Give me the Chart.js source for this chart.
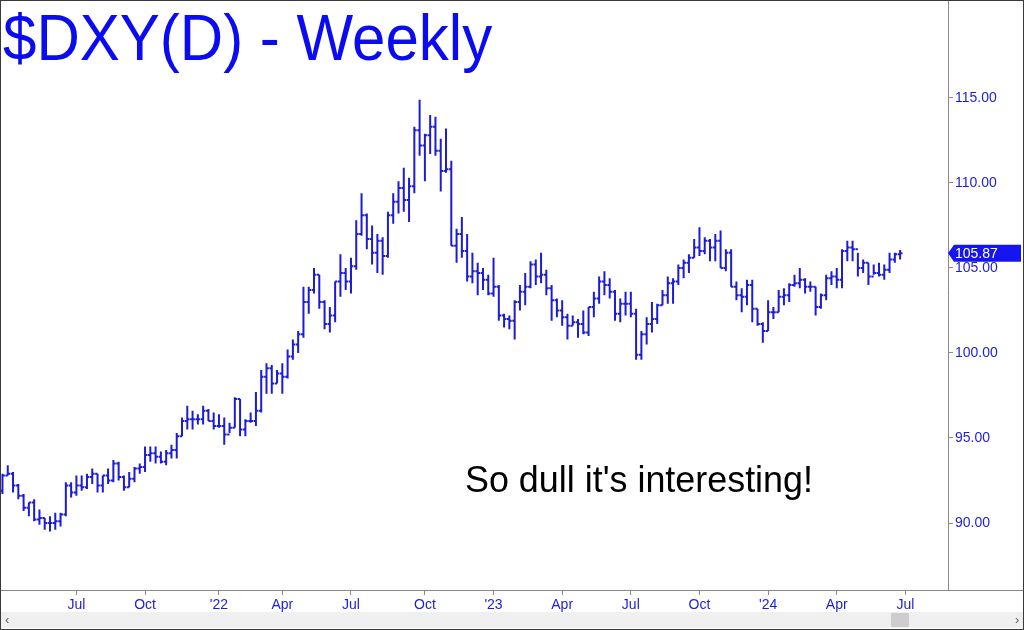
<!DOCTYPE html>
<html>
<head>
<meta charset="utf-8">
<script src="https://cdn.jsdelivr.net/npm/chart.js@4.4.1/dist/chart.umd.min.js"></script>
<style>
html,body{margin:0;padding:0;background:#fff;}
#wrap{position:relative;width:1024px;height:630px;overflow:hidden;}
#c{position:absolute;left:0;top:0;}
</style>
</head>
<body>
<div id="wrap"><canvas id="c" width="1024" height="630"></canvas></div>
<script>
// ---- data (weekly bars, first week ending 2021-03-26) ----
const firstWeek = "2021-03-26";
const opens = [
91.9, 92.8, 92.9, 92.2, 91.6, 90.9, 91.2, 90.2, 90.3, 90.0,
90.0, 90.1, 90.5, 92.2, 91.8, 92.2, 92.1, 92.7, 92.9, 92.2,
92.8, 92.5, 93.5, 92.7, 92.1, 92.6, 93.2, 93.3, 94.0, 94.1,
93.9, 93.6, 94.1, 94.3, 95.1, 96.0, 96.1, 96.1, 96.1, 96.6,
96.0, 95.7, 95.7, 95.2, 95.6, 97.3, 95.5, 96.0, 96.0, 96.6,
98.6, 99.1, 98.2, 98.8, 98.6, 99.8, 100.5, 101.1, 103.0, 103.7,
104.6, 103.0, 101.7, 102.2, 104.2, 104.7, 104.2, 105.1, 107.0, 108.1,
106.7, 105.9, 106.6, 105.7, 108.1, 108.9, 109.7, 109.0, 109.8, 113.1,
112.2, 112.8, 113.3, 111.9, 110.7, 110.8, 106.3, 107.0, 106.0, 104.5,
104.8, 104.7, 104.3, 103.5, 103.9, 102.2, 102.0, 101.9, 103.0, 103.6,
103.9, 105.2, 104.5, 104.6, 103.8, 103.1, 102.5, 102.1, 101.6, 101.8,
101.7, 101.2, 102.7, 103.2, 104.2, 104.0, 103.6, 102.3, 102.9, 102.9,
102.3, 99.9, 101.1, 101.7, 102.0, 102.8, 103.4, 104.1, 104.2, 105.0,
105.3, 105.6, 106.2, 106.0, 106.6, 106.2, 106.6, 105.0, 105.9, 103.9,
103.4, 103.3, 104.0, 102.6, 101.7, 101.3, 102.4, 102.4, 103.3, 103.4,
104.0, 104.1, 104.3, 103.9, 103.9, 102.7, 103.4, 104.4, 104.5, 104.3,
106.0, 106.2, 106.1, 105.0, 105.3, 104.5, 104.7, 104.6, 104.9, 105.5,
105.8
];
const highs = [
92.9, 93.4, 93.0, 92.3, 91.7, 91.2, 91.4, 90.8, 90.3, 90.4,
90.6, 90.6, 92.4, 92.4, 92.8, 92.8, 92.9, 93.2, 92.9, 92.8,
93.2, 93.7, 93.6, 92.8, 93.0, 93.3, 93.5, 94.5, 94.5, 94.5,
94.2, 94.3, 94.6, 95.3, 96.2, 96.9, 96.6, 96.4, 96.9, 96.7,
96.5, 96.4, 96.2, 95.9, 97.4, 97.3, 96.1, 96.5, 97.7, 99.0,
99.4, 99.3, 99.0, 99.4, 100.2, 100.8, 101.3, 103.9, 103.9, 105.0,
104.6, 103.1, 102.7, 104.2, 105.8, 105.0, 105.6, 107.8, 109.4, 108.2,
107.5, 107.0, 106.8, 108.3, 109.4, 110.1, 110.9, 110.3, 113.3, 114.9,
112.9, 114.0, 113.9, 112.6, 113.2, 111.3, 107.3, 108.0, 107.0, 105.9,
105.3, 105.0, 104.6, 105.6, 104.0, 102.3, 102.2, 103.1, 104.0, 104.7,
105.4, 105.5, 105.9, 104.9, 104.0, 103.2, 103.1, 102.3, 102.2, 102.0,
102.5, 102.7, 103.6, 104.5, 104.8, 104.4, 103.7, 103.2, 103.6, 103.6,
102.6, 101.3, 102.1, 103.0, 102.9, 103.7, 104.5, 104.4, 105.2, 105.5,
105.8, 106.7, 107.4, 106.8, 106.7, 107.0, 107.2, 106.1, 106.1, 104.2,
103.8, 104.3, 104.3, 102.6, 101.8, 103.1, 102.7, 103.7, 103.8, 104.1,
104.6, 105.0, 104.4, 104.2, 103.9, 103.5, 104.6, 104.8, 105.0, 106.1,
106.6, 106.6, 105.9, 105.5, 105.3, 105.2, 105.3, 105.2, 105.9, 105.9,
106.06
];
const lows = [
91.7, 92.8, 91.8, 91.4, 90.7, 90.4, 90.1, 89.9, 89.6, 89.5,
89.6, 89.8, 90.4, 91.5, 91.6, 91.9, 92.0, 92.3, 91.8, 91.8,
92.3, 92.4, 92.5, 91.9, 92.1, 92.4, 92.9, 93.0, 93.6, 93.5,
93.5, 93.4, 93.8, 93.8, 95.1, 95.5, 95.5, 95.8, 95.8, 96.0,
95.5, 95.6, 94.6, 95.3, 95.6, 95.1, 95.1, 95.9, 95.7, 96.5,
97.6, 97.6, 98.2, 97.6, 98.5, 99.6, 100.0, 100.9, 102.3, 103.5,
102.6, 101.4, 101.2, 101.8, 103.3, 103.7, 103.5, 104.9, 106.9, 106.1,
105.2, 104.7, 104.6, 105.6, 107.6, 108.2, 108.3, 107.7, 109.4, 111.6,
110.1, 111.7, 111.6, 109.5, 110.6, 106.3, 105.3, 105.6, 104.2, 104.1,
103.4, 103.7, 103.4, 103.3, 101.9, 101.5, 101.4, 100.8, 102.5, 102.8,
103.8, 104.0, 104.1, 103.4, 101.9, 102.1, 101.6, 100.8, 101.6, 100.9,
101.1, 101.0, 102.1, 102.9, 103.4, 103.2, 101.9, 101.8, 102.2, 102.1,
99.6, 99.6, 100.5, 101.2, 101.7, 102.8, 102.9, 102.9, 104.0, 104.4,
104.7, 105.6, 105.7, 105.8, 105.4, 105.4, 105.0, 104.8, 103.9, 103.1,
102.4, 102.8, 101.8, 101.6, 100.6, 101.3, 102.0, 102.4, 102.8, 103.0,
103.9, 103.8, 103.5, 103.6, 102.2, 102.6, 103.1, 104.0, 103.8, 103.8,
105.4, 105.4, 104.5, 104.7, 104.0, 104.6, 104.5, 104.3, 104.7, 105.3,
105.5
];
const closes = [
92.8, 92.9, 92.2, 91.6, 90.9, 91.2, 90.2, 90.3, 90.0, 90.0,
90.1, 90.5, 92.2, 91.8, 92.2, 92.1, 92.7, 92.9, 92.2, 92.8,
92.5, 93.5, 92.7, 92.1, 92.6, 93.2, 93.3, 94.0, 94.1, 93.9,
93.6, 94.1, 94.3, 95.1, 96.0, 96.1, 96.1, 96.1, 96.6, 96.0,
95.7, 95.7, 95.2, 95.6, 97.3, 95.5, 96.0, 96.0, 96.6, 98.6,
99.1, 98.2, 98.8, 98.6, 99.8, 100.5, 101.1, 103.0, 103.7, 104.6,
103.0, 101.7, 102.2, 104.2, 104.7, 104.2, 105.1, 107.0, 108.1, 106.7,
105.9, 106.6, 105.7, 108.1, 108.9, 109.7, 109.0, 109.8, 113.1, 112.2,
112.8, 113.3, 111.9, 110.7, 110.8, 106.3, 107.0, 106.0, 104.5, 104.8,
104.7, 104.3, 103.5, 103.9, 102.2, 102.0, 101.9, 103.0, 103.6, 103.9,
105.2, 104.5, 104.6, 103.8, 103.1, 102.5, 102.1, 101.6, 101.8, 101.7,
101.2, 102.7, 103.2, 104.2, 104.0, 103.6, 102.3, 102.9, 102.9, 102.3,
99.9, 101.1, 101.7, 102.0, 102.8, 103.4, 104.1, 104.2, 105.0, 105.3,
105.6, 106.2, 106.0, 106.6, 106.2, 106.6, 105.0, 105.9, 103.9, 103.4,
103.3, 104.0, 102.6, 101.7, 101.3, 102.4, 102.4, 103.3, 103.4, 104.0,
104.1, 104.3, 103.9, 103.9, 102.7, 103.4, 104.4, 104.5, 104.3, 106.0,
106.2, 106.1, 105.0, 105.3, 104.5, 104.7, 104.6, 104.9, 105.5, 105.8,
105.87
];
// x-axis ticks: first weekly bar of each labelled month
const tickDates = ["2021-07-02","2021-10-01","2022-01-07","2022-04-01","2022-07-01","2022-10-07",
  "2023-01-06","2023-04-07","2023-07-07","2023-10-06","2024-01-05","2024-04-05","2024-07-05"];
const tickLabels = ["Jul","Oct","'22","Apr","Jul","Oct","'23","Apr","Jul","Oct","'24","Apr","Jul"];
const yTicks = [90, 95, 100, 105, 110, 115];
const titleText = "$DXY(D) - Weekly";
const noteText = "So dull it's interesting!";

// ---- helpers ----
const WEEK = 7 * 86400000;
function weekIndex(d){ return (Date.parse(d) - Date.parse(firstWeek)) / WEEK; }
const TICK = 0.45;
const rangeSeg = [], openSeg = [], closeSeg = [];
for (let i = 0; i < closes.length; i++) {
  rangeSeg.push({x:i, y:lows[i]}, {x:i, y:highs[i]}, {x:i, y:null});
  openSeg.push({x:i - TICK, y:opens[i]}, {x:i, y:opens[i]}, {x:i, y:null});
  closeSeg.push({x:i, y:closes[i]}, {x:i + TICK, y:closes[i]}, {x:i, y:null});
}
const BAR = '#1c1cd4';
const AX = '#1d1dd6';
function seg(data){
  return {data, showLine:true, spanGaps:false, borderColor:BAR, borderWidth:2,
    borderCapStyle:'butt', pointRadius:0, pointHoverRadius:0, pointBorderWidth:0, fill:false, tension:0};
}
function noPad(s){ s.paddingTop = 0; s.paddingBottom = 0; s.paddingLeft = 0; s.paddingRight = 0; }

const overlay = {
  id:'overlay',
  afterDraw(chart){
    const ctx = chart.ctx, ca = chart.chartArea, ys = chart.scales.y;
    ctx.save();
    // full-width bottom rule
    ctx.strokeStyle = '#8a8a8a'; ctx.lineWidth = 1;
    ctx.beginPath(); ctx.moveTo(0, ca.bottom + 0.5); ctx.lineTo(1024, ca.bottom + 0.5); ctx.stroke();
    // title
    ctx.fillStyle = '#0b0bf2';
    ctx.font = '64px "Liberation Sans", Arial, sans-serif';
    ctx.textBaseline = 'alphabetic';
    ctx.save(); ctx.translate(3, 60); ctx.scale(0.938, 1); ctx.fillText(titleText, 0, 0); ctx.restore();
    // annotation
    ctx.fillStyle = '#000';
    ctx.font = '37px "Liberation Sans", Arial, sans-serif';
    ctx.save(); ctx.translate(465, 492); ctx.scale(0.97, 1); ctx.fillText(noteText, 0, 0); ctx.restore();
    // last price tag
    const last = closes[closes.length - 1];
    const y = ys.getPixelForValue(last);
    const x0 = ca.right;
    ctx.fillStyle = '#1515f2';
    ctx.beginPath();
    ctx.moveTo(x0, y); ctx.lineTo(x0 + 6, y - 8.5); ctx.lineTo(1021, y - 8.5);
    ctx.lineTo(1021, y + 8.5); ctx.lineTo(x0 + 6, y + 8.5); ctx.closePath(); ctx.fill();
    ctx.fillStyle = '#fff';
    ctx.font = '14px "Liberation Sans", Arial, sans-serif';
    ctx.textBaseline = 'middle';
    ctx.fillText(last.toFixed(2), x0 + 7, y + 0.5);
    // scrollbar
    ctx.fillStyle = '#f0f0f0'; ctx.fillRect(1, 612, 1022, 16);
    ctx.fillStyle = '#cdcdcd'; ctx.fillRect(891, 613, 18, 14);
    ctx.fillStyle = '#606060'; ctx.font = '13px "Liberation Sans", Arial, sans-serif';
    ctx.textBaseline = 'middle';
    ctx.fillText('\u2039', 5, 620); ctx.fillText('\u203A', 1015, 620);
    // outer frame
    ctx.strokeStyle = '#3a3a3a'; ctx.lineWidth = 1;
    ctx.strokeRect(0.5, 0.5, 1023, 629);
    ctx.restore();
  }
};

new Chart(document.getElementById('c'), {
  type:'scatter',
  data:{datasets:[seg(rangeSeg), seg(openSeg), seg(closeSeg)]},
  options:{
    responsive:false, devicePixelRatio:1, animation:false,
    layout:{padding:0, autoPadding:false},
    plugins:{legend:{display:false}, tooltip:{enabled:false}, title:{display:false}},
    scales:{
      x:{
        type:'linear', min:-0.47, max:179.07,
        afterBuildTicks(s){ s.ticks = tickDates.map(d => ({value: weekIndex(d)})); },
        afterFit(s){ s.height = 40; noPad(s); },
        ticks:{ autoSkip:false, maxRotation:0, padding:2, color:AX,
          font:{family:'"Liberation Sans", Arial, sans-serif', size:14},
          callback:(v, i) => tickLabels[i] },
        grid:{display:true, drawOnChartArea:false, drawTicks:true, tickLength:5, color:'#8a8a8a'},
        border:{display:true, color:'#8a8a8a'}
      },
      y:{
        type:'linear', position:'right', min:86.06, max:120.76,
        afterBuildTicks(s){ s.ticks = yTicks.map(v => ({value:v})); },
        afterFit(s){ s.width = 76; noPad(s); },
        ticks:{ padding:2, color:AX,
          font:{family:'"Liberation Sans", Arial, sans-serif', size:14},
          callback:(v) => Number(v).toFixed(2) },
        grid:{display:true, drawOnChartArea:false, drawTicks:true, tickLength:5, color:'#8a8a8a'},
        border:{display:true, color:'#8a8a8a'}
      }
    }
  },
  plugins:[overlay]
});
</script>
</body>
</html>
